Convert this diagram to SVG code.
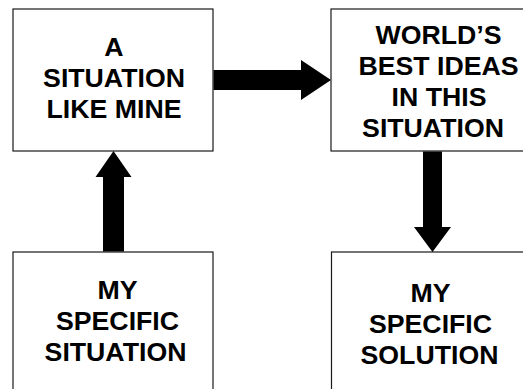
<svg xmlns="http://www.w3.org/2000/svg" width="523" height="389" viewBox="0 0 523 389">
<style>
.box{fill:#fff;stroke:#1a1a1a;stroke-width:1.2}
.t{font-family:"Liberation Sans",Arial,sans-serif;font-weight:bold;font-size:26.7px;fill:#000;text-anchor:middle}
.arr{fill:#000}
</style>
<rect width="523" height="389" fill="#fff"/>
<g id="n1">
<rect class="box" x="13" y="9" width="200" height="142"/>
<text class="t" x="114" y="55.5">A</text>
<text class="t" x="114" y="86.5">SITUATION</text>
<text class="t" x="114" y="117.5">LIKE MINE</text>
</g>
<g id="n2">
<rect class="box" x="331" y="9" width="215" height="142"/>
<text class="t" x="438.5" y="43.5">WORLD’S</text>
<text class="t" x="438.5" y="75">BEST IDEAS</text>
<text class="t" x="439" y="106">IN THIS</text>
<text class="t" x="433" y="137">SITUATION</text>
</g>
<g id="n3">
<rect class="box" x="13" y="252" width="200" height="150"/>
<text class="t" x="117.5" y="299">MY</text>
<text class="t" x="117.5" y="330">SPECIFIC</text>
<text class="t" x="115.5" y="361">SITUATION</text>
</g>
<g id="n4">
<rect class="box" x="331.5" y="252" width="198" height="150"/>
<text class="t" x="430.5" y="302">MY</text>
<text class="t" x="430.5" y="333">SPECIFIC</text>
<text class="t" x="429.5" y="364">SOLUTION</text>
</g>
<g id="connectors">
<polygon class="arr" points="213.5,70 301,70 301,60 331,80 301,100 301,90 213.5,90"/>
<polygon class="arr" points="103,251.5 103,177 95.5,177 113.5,151 131.5,177 124,177 124,251.5"/>
<polygon class="arr" points="423,151.5 442,151.5 442,227 451,227 432.5,252 414,227 423,227"/>
</g>
</svg>
